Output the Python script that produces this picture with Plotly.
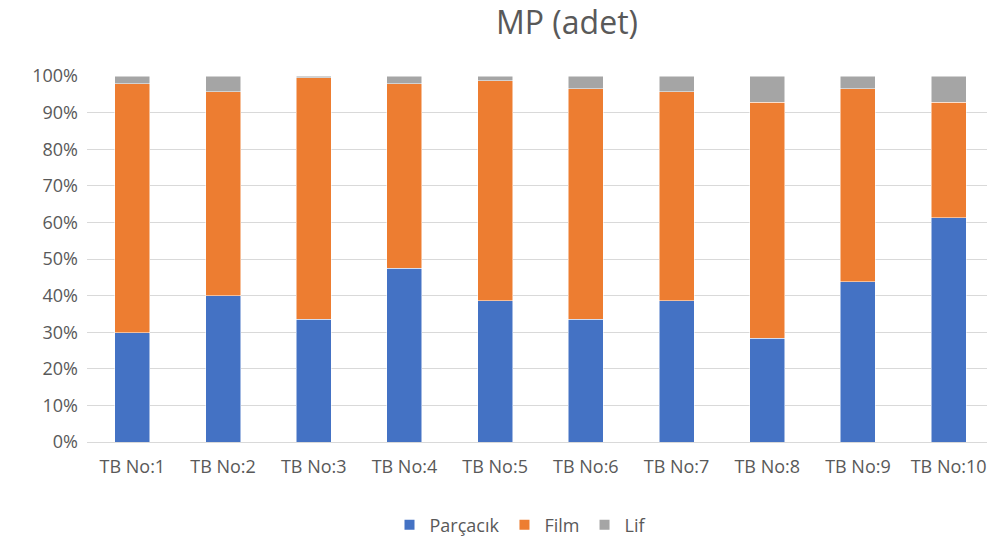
import plotly.graph_objects as go

categories = ["TB No:1", "TB No:2", "TB No:3", "TB No:4", "TB No:5",
              "TB No:6", "TB No:7", "TB No:8", "TB No:9", "TB No:10"]
parcacik = [29.9, 40.0, 33.5, 47.5, 38.6, 33.5, 38.6, 28.4, 43.8, 61.3]
film = [68.0, 55.7, 66.0, 50.4, 60.1, 63.0, 57.1, 64.4, 52.7, 31.5]
lif = [2.1, 4.3, 0.5, 2.1, 1.3, 3.5, 4.3, 7.2, 3.5, 7.2]

series = [("Parçacık", parcacik, "#4472C4"),
          ("Film", film, "#ED7D31"),
          ("Lif", lif, "#A5A5A5")]

fig = go.Figure()
for name, vals, color in series:
    fig.add_trace(go.Bar(x=categories, y=vals, name=name,
                         marker=dict(color=color, line=dict(color="white", width=0.5))))

font_family = "'Open Sans', 'Liberation Sans', sans-serif"
fig.update_layout(
    barmode="stack",
    barnorm="percent",
    bargap=0.615,
    width=995, height=543,
    margin=dict(l=79, r=9, t=68, b=109),
    paper_bgcolor="white", plot_bgcolor="white",
    font=dict(family=font_family, color="#595959", size=18),
    title=dict(text="MP (adet)", x=559/995, xref="container", xanchor="center",
               y=1 - 15/543, yanchor="middle",
               font=dict(size=32, color="#595959", family=font_family)),
    legend=dict(orientation="h", x=512/995, xanchor="center", xref="container",
                y=26/543, yref="container", yanchor="middle",
                font=dict(size=18, color="#595959"), traceorder="normal",
                itemwidth=30, itemsizing="constant"),
    showlegend=True,
)
fig.update_yaxes(range=[0, 100], dtick=10, ticksuffix="%", gridcolor="#D9D9D9",
                 gridwidth=1, zeroline=False, showline=False, ticks="",
                 ticklabelstandoff=8)
fig.update_xaxes(showline=True, linecolor="#D9D9D9", ticks="", ticklabelstandoff=8)

fig.write_html("out.html")
